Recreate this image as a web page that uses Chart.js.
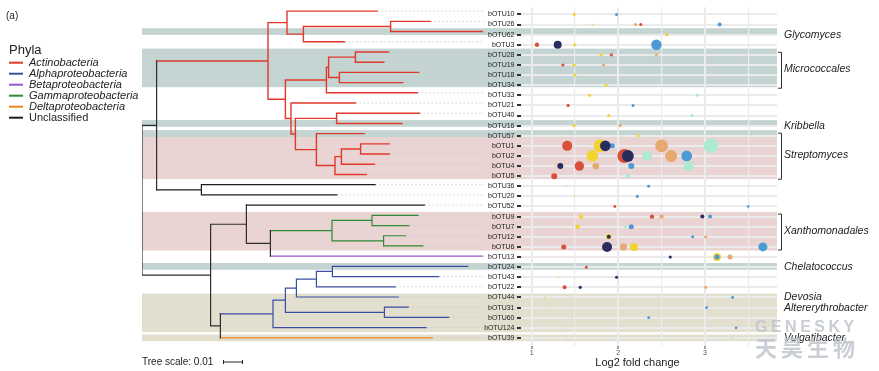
<!DOCTYPE html>
<html>
<head>
<meta charset="utf-8">
<script src="https://cdn.jsdelivr.net/npm/chart.js@4.4.1/dist/chart.umd.min.js"></script>
<style>
  body { margin: 0; background: #fff; }
  #wrap { position: relative; width: 879px; height: 371px; }
  #wrap canvas { position: absolute; left: 0; top: 0; }
</style>
</head>
<body>
<div id="wrap">
  <canvas id="treeChart" width="879" height="371"></canvas>
  <canvas id="lfcChart" width="879" height="371"></canvas>
</div>
<script>
// ---------------- data ----------------

// OTUs, top to bottom, as in the tree
const otus = ['bOTU10','bOTU26','bOTU62','bOTU3','bOTU28','bOTU19','bOTU18','bOTU34','bOTU33','bOTU21','bOTU40',
  'bOTU16','bOTU57','bOTU1','bOTU2','bOTU4','bOTU5','bOTU36','bOTU20','bOTU52','bOTU9','bOTU7','bOTU12','bOTU6',
  'bOTU13','bOTU24','bOTU43','bOTU22','bOTU44','bOTU31','bOTU60','bOTU124','bOTU39'];

const otuPhylum = ['Act','Act','Act','Act','Act','Act','Act','Act','Act','Act','Act','Act','Act','Act','Act','Act','Act',
  'Uncl','Uncl','Uncl','Gamma','Gamma','Gamma','Gamma','Beta',
  'Alpha','Alpha','Alpha','Alpha','Alpha','Alpha','Alpha','Delta'];

const phylaKeys = ['Act','Alpha','Beta','Gamma','Delta','Uncl'];
const phylaLabels = ['Actinobacteria','Alphaproteobacteria','Betaproteobacteria','Gammaproteobacteria','Deltaproteobacteria','Unclassified'];

// tree, branch lengths in units of 0.001
const treeNewick = [
  '((((bOTU10:45.2,((bOTU26:20,bOTU62:46):43.6,bOTU3:20.6):8.2):9.5,',
  '((((bOTU28:16.6,bOTU19:14.3):13.4,(bOTU18:39.8,bOTU34:31.8):5.4):1.1,bOTU33:45.6):20.5,',
  '(bOTU21:32.3,((bOTU40:41.5,bOTU16:32.9):20.6,',
  '(bOTU57:24.1,(((bOTU1:14.4,bOTU2:14.4):9.6,bOTU4:16.6):3.2,bOTU5:15.8):9.3):10.5):2.2):2.8):8.7):55.7,',
  '(bOTU36:87,bOTU20:67.8):22.4):7.3,',
  '((bOTU52:89.1,(((bOTU9:23.2,bOTU7:18.5):20,(bOTU12:11,bOTU6:19.7):25.8):30.8,bOTU13:106.1):12):17.9,',
  '((((((bOTU24:67.8,bOTU43:53.3):8,bOTU22:39.5):10,bOTU44:51):5.5,(bOTU31:12,bOTU60:32.3):49.5):6.2,bOTU124:76.7):26.3,bOTU39:106):4.9):34.3);'
].join('');

// highlighted clades (background strips)
const bandFirst = ['bOTU62','bOTU28','bOTU16','bOTU57','bOTU57','bOTU9','bOTU24','bOTU44','bOTU39'];
const bandLast  = ['bOTU62','bOTU34','bOTU16','bOTU5','bOTU57','bOTU6','bOTU24','bOTU124','bOTU39'];
const bandKind  = ['teal','teal','teal','pink','teal','pink','teal','tan','tan'];

// clade names on the right
const cladeNames = ['Glycomyces','Micrococcales','Kribbella','Streptomyces','Xanthomonadales','Chelatococcus','Devosia','Altererythrobacter','Vulgatibacter'];
const cladeFirst = ['bOTU62','bOTU28','bOTU16','bOTU57','bOTU9','bOTU24','bOTU44','bOTU31','bOTU39'];
const cladeLast  = ['bOTU62','bOTU34','bOTU16','bOTU5','bOTU6','bOTU24','bOTU44','bOTU31','bOTU39'];

// log2 fold change per group: [otu, log2FC, relative abundance]
const lfcG1 = [['bOTU10',1.49,2.3],['bOTU26',1.70,0.6],['bOTU62',2.56,2.5],['bOTU3',1.50,2.5],['bOTU28',1.80,2.5],
  ['bOTU19',1.49,2.5],['bOTU18',1.50,2.5],['bOTU34',1.86,2.3],['bOTU33',1.67,2.5],['bOTU40',1.89,2.5],['bOTU16',1.49,2.3],
  ['bOTU57',2.23,2.3],['bOTU1',1.79,42],['bOTU2',1.70,34],['bOTU4',1.27,0.5],['bOTU36',1.40,0.5],['bOTU20',1.49,0.5],
  ['bOTU9',1.57,4.8],['bOTU7',1.53,4.8],['bOTU12',1.89,7.8],['bOTU6',2.18,16],['bOTU13',3.14,16],['bOTU43',1.31,0.5],
  ['bOTU44',1.15,0.4],['bOTU31',1.17,0.4],['bOTU60',1.46,0.4],['bOTU124',1.40,0.4],['bOTU39',1.40,0.4]];
const lfcG2 = [['bOTU26',2.26,2.5],['bOTU3',1.06,4.8],['bOTU28',1.92,2.5],['bOTU19',1.36,2.5],['bOTU21',1.42,2.5],
  ['bOTU1',1.41,25],['bOTU2',2.07,49],['bOTU4',1.55,22],['bOTU5',1.26,9],['bOTU52',1.96,2],['bOTU9',2.39,4.8],
  ['bOTU6',1.37,6.3],['bOTU24',1.63,2.3],['bOTU22',1.38,4]];
const lfcG3 = [['bOTU26',2.20,2.5],['bOTU28',2.44,2.3],['bOTU19',1.83,2.5],['bOTU16',2.02,2.5],['bOTU1',2.50,40],
  ['bOTU2',2.61,36],['bOTU4',1.74,11],['bOTU9',2.50,4.8],['bOTU12',3.01,2.5],['bOTU6',2.06,12],['bOTU13',3.29,6.3],
  ['bOTU22',3.01,2.3]];
const lfcG4 = [['bOTU33',2.91,2.3],['bOTU40',2.85,2.3],['bOTU1',3.07,54],['bOTU2',2.33,25],['bOTU4',2.81,25],
  ['bOTU5',2.11,4.8],['bOTU7',2.08,2.3],['bOTU39',3.32,1.4]];
const lfcG5 = [['bOTU10',1.98,2.3],['bOTU26',3.17,4],['bOTU3',2.44,27],['bOTU21',2.17,2.3],['bOTU1',1.93,6.3],
  ['bOTU2',2.79,29],['bOTU4',2.15,9],['bOTU36',2.35,2],['bOTU20',2.22,2.3],['bOTU52',3.50,1.7],['bOTU9',3.06,4],
  ['bOTU7',2.15,6.3],['bOTU12',2.86,2.3],['bOTU6',3.67,20],['bOTU13',3.14,6.3],['bOTU44',3.32,2],['bOTU31',3.02,2],
  ['bOTU60',2.35,2],['bOTU124',3.36,2]];
const lfcG6 = [['bOTU3',1.30,16],['bOTU1',1.85,28],['bOTU2',2.11,36],['bOTU4',1.33,9],['bOTU9',2.97,4],
  ['bOTU12',1.89,4],['bOTU6',1.87,25],['bOTU13',2.60,2.5],['bOTU43',1.98,2.3],['bOTU22',1.56,2.5]];

const lfcTicks = [1, 1.5, 2, 2.5, 3, 3.5];

// ---------------- styles ----------------

Chart.defaults.font.family = '"Liberation Sans", Arial, Helvetica, sans-serif';
Chart.defaults.color = '#222';
Chart.defaults.animation = false;

const phylumColor = { Act: '#e2382c', Alpha: '#3a4fa2', Beta: '#9b55cf', Gamma: '#2f8a35', Delta: '#f0861d', Uncl: '#1c1c1c', mixed: '#2e2e2e' };
const bandFill = { teal: '#c3d4d2', pink: '#e9d3d3', tan: '#e3dfcf' };
const groupColor = ['#f3d330', '#d9503a', '#e6a96f', '#aee9d2', '#4b9ad6', '#2a2c5d'];

const Y_MIN = -0.7, Y_MAX = 32.8;
const BAND_LEFT = 142, BAND_RIGHT = 777;
const LEADER_END = 171;

const rowOf = name => otus.indexOf(name);

// ---------------- tree layout ----------------

function parseNewick(str) {
  let i = 0;
  function readNode() {
    const node = { children: [], name: '', len: 0 };
    if (str[i] === '(') {
      i++;
      node.children.push(readNode());
      while (str[i] === ',') { i++; node.children.push(readNode()); }
      i++;
    }
    const name = /^[^:,();]*/.exec(str.slice(i))[0];
    node.name = name; i += name.length;
    if (str[i] === ':') {
      i++;
      const num = /^[0-9.]+/.exec(str.slice(i))[0];
      node.len = parseFloat(num); i += num.length;
    }
    return node;
  }
  return readNode();
}

function placeNode(node, parentX) {
  node.px = parentX;
  node.x = parentX + node.len;
  if (!node.children.length) {
    node.y = rowOf(node.name);
    node.phylum = otuPhylum[node.y];
    return;
  }
  node.children.forEach(c => placeNode(c, node.x));
  const first = node.children[0], last = node.children[node.children.length - 1];
  node.yTop = first.y; node.yBot = last.y;
  node.y = (first.y + last.y) / 2;
  node.phylum = node.children.every(c => c.phylum === first.phylum) ? first.phylum : 'mixed';
}

const segs = {};
const leaders = [];
function addSeg(key, x1, y1, x2, y2) {
  (segs[key] = segs[key] || []).push({ x: x1, y: y1 }, { x: x2, y: y2 }, { x: NaN, y: NaN });
}
function walk(node, isRoot) {
  if (!isRoot) addSeg(node.phylum, node.px, node.y, node.x, node.y);
  if (node.children.length) {
    addSeg(node.phylum, node.x, node.yTop, node.x, node.yBot);
    node.children.forEach(c => walk(c, false));
  } else {
    leaders.push({ x: node.x, y: node.y }, { x: LEADER_END, y: node.y }, { x: NaN, y: NaN });
  }
}

const root = parseNewick(treeNewick);
placeNode(root, 0);
walk(root, true);

// ---------------- plugins ----------------

const bandsPlugin = {
  id: 'bands',
  beforeDatasetsDraw(chart) {
    const { ctx } = chart, y = chart.scales.y;
    ctx.save();
    bandFirst.forEach((f, i) => {
      const a = rowOf(f), b = rowOf(bandLast[i]);
      const top = y.getPixelForValue(a - 0.33);
      const bot = y.getPixelForValue(b + (b > a ? 0.45 : 0.33));
      ctx.fillStyle = bandFill[bandKind[i]];
      ctx.fillRect(BAND_LEFT, top, BAND_RIGHT - BAND_LEFT, bot - top);
    });
    ctx.restore();
  }
};

const treeDecor = {
  id: 'treeDecor',
  afterDraw(chart) {
    const { ctx } = chart, x = chart.scales.x;
    ctx.save();
    ctx.fillStyle = '#222';
    ctx.textBaseline = 'middle';
    ctx.font = '10px "Liberation Sans", Arial';
    ctx.fillText('(a)', 6, 16);
    ctx.font = '13px "Liberation Sans", Arial';
    ctx.fillText('Phyla', 9, 50);
    phylaKeys.forEach((k, i) => {
      const yy = 62.7 + i * 11;
      ctx.strokeStyle = phylumColor[k];
      ctx.lineWidth = 2;
      ctx.beginPath(); ctx.moveTo(9, yy); ctx.lineTo(23, yy); ctx.stroke();
      ctx.fillStyle = '#222';
      ctx.font = (k === 'Uncl' ? '' : 'italic ') + '11px "Liberation Sans", Arial';
      ctx.fillText(phylaLabels[i], 29, yy + 0.5);
    });
    // tree scale
    ctx.font = '10px "Liberation Sans", Arial';
    ctx.fillText('Tree scale: 0.01', 142, 362);
    const len = x.getPixelForValue(10) - x.getPixelForValue(0);
    ctx.strokeStyle = '#222'; ctx.lineWidth = 1;
    ctx.beginPath();
    ctx.moveTo(223, 362); ctx.lineTo(223 + len, 362);
    ctx.moveTo(223.5, 360); ctx.lineTo(223.5, 364);
    ctx.moveTo(222.5 + len, 360); ctx.lineTo(222.5 + len, 364);
    ctx.stroke();
    ctx.restore();
  }
};

const lfcDecor = {
  id: 'lfcDecor',
  afterDraw(chart) {
    const { ctx } = chart, y = chart.scales.y, area = chart.chartArea;
    ctx.save();
    ctx.fillStyle = '#222';
    ctx.textBaseline = 'middle';
    ctx.font = '11px "Liberation Sans", Arial';
    ctx.textAlign = 'center';
    ctx.fillText('Log2 fold change', area.left + (area.right - area.left) * 0.455, 363);
    ctx.textAlign = 'left';
    ctx.font = 'italic 10.5px "Liberation Sans", Arial';
    ctx.strokeStyle = '#333'; ctx.lineWidth = 1;
    cladeNames.forEach((name, i) => {
      const a = rowOf(cladeFirst[i]), b = rowOf(cladeLast[i]);
      let mid = y.getPixelForValue((a + b) / 2);
      if (b > a) {
        const t = y.getPixelForValue(a - 0.3), bt = y.getPixelForValue(b + 0.35);
        ctx.beginPath();
        ctx.moveTo(778, t + 0.5); ctx.lineTo(781.5, t + 0.5); ctx.lineTo(781.5, bt - 0.5); ctx.lineTo(778, bt - 0.5);
        ctx.stroke();
        mid = (t + bt) / 2 - 1;
      }
      ctx.fillText(name, 784, mid);
    });
    // watermark
    ctx.globalAlpha = 0.85;
    ctx.fillStyle = '#bfc4cc';
    ctx.font = 'bold 16px "Liberation Sans", Arial';
    ctx.letterSpacing = '3.5px';
    ctx.fillText('GENESKY', 755, 328);
    ctx.font = 'bold 22px "Noto Sans CJK SC"';
    ctx.letterSpacing = '4px';
    ctx.fillText('天昊生物', 755, 348);
    ctx.restore();
  }
};

// ---------------- charts ----------------

const treeDatasets = [{
  data: leaders, showLine: true, borderColor: '#c4c4c4', borderWidth: 0.8, borderDash: [1.5, 2.5],
  pointRadius: 0, pointHoverRadius: 0
}];
Object.keys(segs).forEach(k => {
  treeDatasets.push({
    data: segs[k], showLine: true, borderColor: phylumColor[k], borderWidth: k === 'Act' ? 1.4 : 1.2,
    borderCapStyle: 'square', pointRadius: 0, pointHoverRadius: 0
  });
});

new Chart(document.getElementById('treeChart').getContext('2d'), {
  type: 'scatter',
  data: { datasets: treeDatasets },
  options: {
    responsive: false,
    devicePixelRatio: 1,
    events: [],
    layout: { padding: { left: 142, right: 337, top: 4, bottom: 25 } },
    scales: {
      x: { type: 'linear', display: false, min: 0, max: 200 },
      y: { type: 'linear', display: false, min: Y_MIN, max: Y_MAX, reverse: true }
    },
    plugins: { legend: { display: false }, tooltip: { enabled: false } }
  },
  plugins: [bandsPlugin, treeDecor]
});

function toBubbles(list) {
  return list.map(([o, v, a]) => ({ x: v, y: rowOf(o), r: Math.sqrt(a) }));
}
const groups = [lfcG1, lfcG2, lfcG3, lfcG4, lfcG5, lfcG6];
const bubbleSets = groups.map((g, i) => ({
  label: 'G' + (i + 1),
  data: toBubbles(g),
  backgroundColor: groupColor[i],
  borderWidth: 0,
  hoverRadius: 0,
  order: groups.length - i
}));

new Chart(document.getElementById('lfcChart').getContext('2d'), {
  type: 'bubble',
  data: { datasets: bubbleSets },
  options: {
    responsive: false,
    devicePixelRatio: 1,
    events: [],
    layout: { padding: { left: 470, right: 102, top: 4, bottom: 0 } },
    scales: {
      x: {
        type: 'linear', min: 0.876, max: 3.833,
        afterBuildTicks: s => { s.ticks = lfcTicks.map(v => ({ value: v })); },
        afterFit: s => { s.height = 25; },
        border: { display: false },
        grid: {
          color: '#ebebeb',
          lineWidth: c => Number.isInteger(c.tick && c.tick.value) ? 2 : 1.2,
          tickColor: c => Number.isInteger(c.tick && c.tick.value) ? '#444' : 'rgba(0,0,0,0)',
          tickLength: 3, tickWidth: 1
        },
        ticks: {
          autoSkip: false, maxRotation: 0, padding: 0,
          font: { size: 7 }, color: '#555',
          callback: v => Number.isInteger(v) ? String(v) : ''
        }
      },
      y: {
        type: 'linear', min: Y_MIN, max: Y_MAX, reverse: true,
        afterBuildTicks: s => { s.ticks = otus.map((_, i) => ({ value: i })); },
        afterFit: s => { s.width = 51; },
        border: { display: false },
        grid: { color: '#ebebeb', lineWidth: 2, tickColor: '#333', tickLength: 4, tickWidth: 2 },
        ticks: {
          autoSkip: false, padding: 2.5, font: { size: 7 }, color: '#222',
          callback: v => otus[v] || ''
        }
      }
    },
    plugins: { legend: { display: false }, tooltip: { enabled: false } }
  },
  plugins: [lfcDecor]
});
</script>
</body>
</html>
